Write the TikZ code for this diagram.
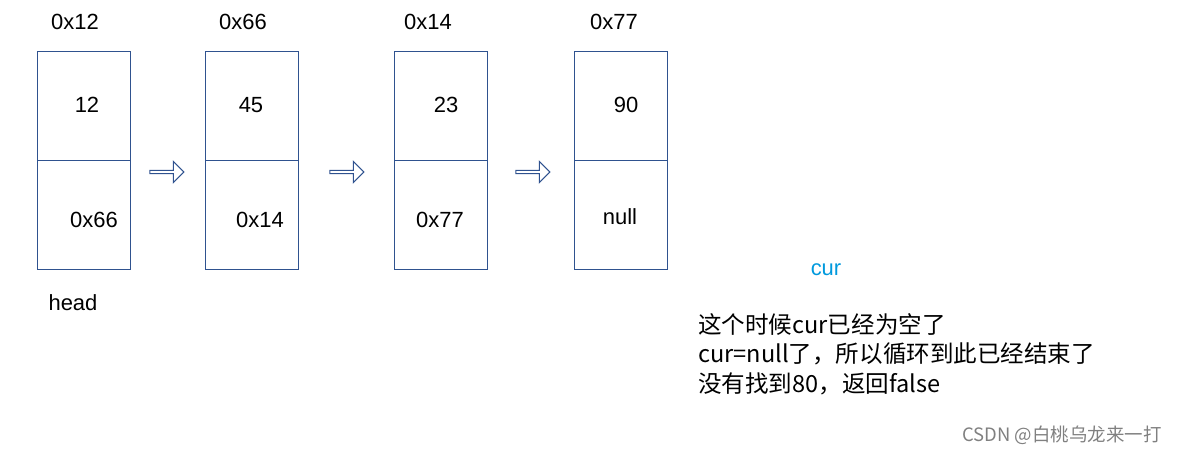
\documentclass[tikz,border=0pt]{standalone}
\usepackage{fontspec}
\setmainfont{Liberation Sans}
\newfontfamily\cjk{Noto Sans CJK SC}
\usetikzlibrary{shapes.arrows}
\definecolor{boxblue}{RGB}{47,82,143}
\definecolor{curblue}{RGB}{0,153,221}
\begin{document}
\begin{tikzpicture}[x=0.02cm,y=-0.02cm]
    \tikzset{every node/.style={font=\fontsize{12.5}{15}\selectfont},
        cell/.style={draw=boxblue,line width=0.6pt,minimum width=1.86cm,minimum height=4.36cm,inner sep=0pt},
        step arrow/.style={single arrow,draw=boxblue,line width=0.6pt,minimum height=0.68cm,minimum width=0.42cm,single arrow head extend=0.06cm,inner sep=0pt}}
    \useasboundingbox (0,0) rectangle (1183,454);
    % list nodes
    \node[cell,anchor=north west] (n1) at (37,51) {};
    \node[cell,anchor=north west] (n2) at (205,51) {};
    \node[cell,anchor=north west] (n3) at (394,51) {};
    \node[cell,anchor=north west] (n4) at (574,51) {};
    \foreach \n in {n1,n2,n3,n4}
        \draw[boxblue,line width=0.6pt] (\n.west) -- (\n.east);
    % addresses
    \node (a1) at (75,22) {0x12};
    \node (a2) at (243,22) {0x66};
    \node (a3) at (428,22) {0x14};
    \node (a4) at (614,22) {0x77};
    % values
    \node (v1) at (87,105) {12};
    \node (v2) at (251,105) {45};
    \node (v3) at (446,105) {23};
    \node (v4) at (626,105) {90};
    % next fields
    \node (p1) at (94,220) {0x66};
    \node (p2) at (260,220) {0x14};
    \node (p3) at (440,220) {0x77};
    \node (p4) at (620,217) {null};
    % arrows
    \node[step arrow] (s1) at (166,172) {};
    \node[step arrow] (s2) at (346,172) {};
    \node[step arrow] (s3) at (532,172) {};
    \node (head) at (73,303) {head};
    \node[text=curblue] (cur) at (826,270) {cur};
    \node[anchor=west,align=left,inner sep=0pt,font=\cjk\fontsize{13.4}{16.8}\selectfont] (note) at (698,354)
        {这个时候cur已经为空了\\cur=null了，所以循环到此已经结束了\\没有找到80，返回false};
    \node[text=gray,font=\cjk\fontsize{10.5}{12}\selectfont] (mark) at (1062,435) {CSDN @白桃乌龙来一打};
\end{tikzpicture}
\end{document}
